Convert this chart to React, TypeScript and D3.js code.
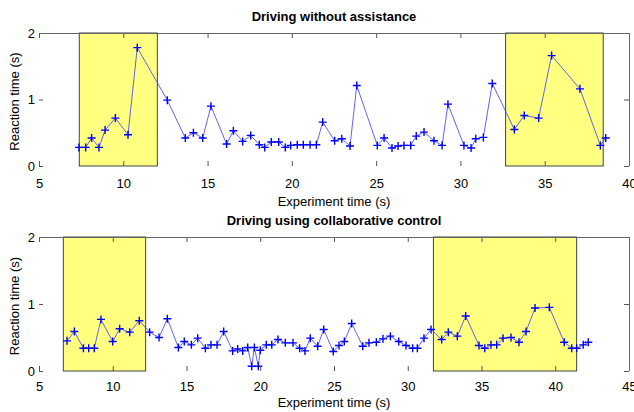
import React, { useEffect, useRef } from 'react';
import * as d3 from 'd3';

// Driving without assistance
const topTimes = [
  7.37, 7.77, 8.12, 8.56, 8.92, 9.53, 10.28, 10.83, 12.61, 13.68, 14.16, 14.71, 15.2, 16.13,
  16.53, 17.08, 17.56, 18.07, 18.39, 18.78, 19.22, 19.61, 19.93, 20.32, 20.68, 21.08, 21.45,
  21.83, 22.54, 22.96, 23.45, 23.85, 25.07, 25.47, 25.94, 26.3, 26.65, 27.05, 27.38, 27.84,
  28.43, 28.91, 29.26, 30.21, 30.63, 30.91, 31.36, 31.89, 33.2, 33.79, 34.64, 35.41, 37.09,
  38.3, 38.62,
];
const topReaction = [
  0.28, 0.28, 0.42, 0.28, 0.54, 0.72, 0.47, 1.78, 0.99, 0.42, 0.5, 0.42, 0.9, 0.33,
  0.53, 0.37, 0.46, 0.32, 0.28, 0.36, 0.36, 0.28, 0.31, 0.32, 0.32, 0.32, 0.32,
  0.66, 0.38, 0.41, 0.3, 1.21, 0.31, 0.42, 0.27, 0.3, 0.31, 0.31, 0.45, 0.51,
  0.38, 0.31, 0.93, 0.31, 0.27, 0.41, 0.43, 1.24, 0.55, 0.76, 0.72, 1.66, 1.16,
  0.31, 0.42,
];
const topShaded = [[7.39, 12.02], [32.68, 38.47]];

// Driving using collaborative control
const bottomTimes = [
  6.9, 7.4, 8.01, 8.37, 8.75, 9.2, 10.0, 10.47, 11.15, 11.8, 12.5, 13.14, 13.7, 14.45, 14.85,
  15.33, 15.76, 16.28, 16.66, 17.07, 17.52, 18.13, 18.47, 18.81, 19.15, 19.42, 19.6, 19.87,
  20.0, 20.41, 20.78, 21.2, 21.7, 22.22, 22.67, 23.03, 23.39, 23.89, 24.3, 24.95, 25.34,
  25.7, 26.2, 26.95, 27.37, 27.87, 28.32, 28.82, 29.39, 29.88, 30.33, 30.65, 31.1, 31.58,
  32.3, 32.75, 33.36, 33.93, 34.83, 35.22, 35.64, 36.03, 36.46, 37.0, 37.54, 38.02, 38.63,
  39.6, 40.61, 41.12, 41.45, 41.9, 42.24,
];
const bottomReaction = [
  0.45, 0.59, 0.34, 0.34, 0.34, 0.77, 0.44, 0.63, 0.58, 0.75, 0.58, 0.5, 0.78, 0.35, 0.44,
  0.39, 0.49, 0.34, 0.39, 0.39, 0.59, 0.3, 0.33, 0.3, 0.35, 0.07, 0.35, 0.07,
  0.31, 0.39, 0.39, 0.47, 0.42, 0.42, 0.34, 0.3, 0.49, 0.37, 0.62, 0.29, 0.38,
  0.44, 0.71, 0.37, 0.42, 0.43, 0.48, 0.52, 0.44, 0.38, 0.34, 0.34, 0.49, 0.62,
  0.47, 0.58, 0.52, 0.82, 0.38, 0.34, 0.39, 0.39, 0.49, 0.5, 0.43, 0.59, 0.94,
  0.95, 0.43, 0.34, 0.34, 0.39, 0.43,
];
const bottomShaded = [[6.65, 12.23], [31.74, 41.45]];

const topXTicks = [5, 10, 15, 20, 25, 30, 35, 40];
const bottomXTicks = [5, 10, 15, 20, 25, 30, 35, 40, 45];
const yTicks = [0, 1, 2];

const FONT = '"Liberation Sans", Arial, Helvetica, sans-serif';

const panels = [
  {
    title: 'Driving without assistance',
    times: topTimes, values: topReaction, shaded: topShaded,
    xTicks: topXTicks, top: 33, bottom: 166, tickPad: 12.5, labelGap: 40,
  },
  {
    title: 'Driving using collaborative control',
    times: bottomTimes, values: bottomReaction, shaded: bottomShaded,
    xTicks: bottomXTicks, top: 237, bottom: 371, tickPad: 10.5, labelGap: 35.5,
  },
];

const App = () => {
  const svgRef = useRef(null);

  useEffect(() => {
    const svg = d3.select(svgRef.current);
    svg.selectAll('*').remove();

    const left = 39;
    const right = 629;

    panels.forEach((p) => {
      const xDomain = [p.xTicks[0], p.xTicks[p.xTicks.length - 1]];
      const xScale = d3.scaleLinear().domain(xDomain).range([left, right]);
      const yScale = d3.scaleLinear().domain([0, 2]).range([p.bottom, p.top]);
      const g = svg.append('g');

      // shaded intervals
      g.selectAll('rect.shade')
        .data(p.shaded)
        .enter()
        .append('rect')
        .attr('x', (d) => xScale(d[0]))
        .attr('y', p.top)
        .attr('width', (d) => xScale(d[1]) - xScale(d[0]))
        .attr('height', p.bottom - p.top)
        .attr('fill', '#ffff80')
        .attr('stroke', '#444')
        .attr('stroke-width', 1);

      // data line
      const line = d3.line()
        .x((d) => xScale(d[0]))
        .y((d) => yScale(d[1]));
      const pts = p.times.map((t, i) => [t, p.values[i]]);
      g.append('path')
        .datum(pts)
        .attr('fill', 'none')
        .attr('stroke', '#3b3bff')
        .attr('stroke-width', 0.8)
        .attr('d', line);

      g.selectAll('path.mark')
        .data(pts)
        .enter()
        .append('path')
        .attr('class', 'mark')
        .attr('transform', (d) => `translate(${xScale(d[0])},${yScale(d[1])})`)
        .attr('d', 'M-4,0H4M0,-4V4')
        .attr('stroke', '#0000ff')
        .attr('stroke-width', 1.4)
        .attr('fill', 'none');

      // axes (ticks inward, box only top + right visible)
      const styleAxis = (sel) => {
        sel.select('.domain').remove();
        sel.selectAll('.tick line').attr('stroke', '#555');
        sel.selectAll('text')
          .attr('fill', '#000')
          .style('font-family', FONT)
          .style('font-size', '13px');
      };

      g.append('g')
        .attr('transform', `translate(0,${p.bottom})`)
        .call(d3.axisBottom(xScale).tickValues(p.xTicks).tickSize(-5).tickPadding(p.tickPad).tickFormat(d3.format('d')))
        .call(styleAxis);
      g.append('g')
        .attr('transform', `translate(0,${p.top})`)
        .call(d3.axisTop(xScale).tickValues(p.xTicks).tickSize(-5).tickFormat(() => ''))
        .call(styleAxis);
      g.append('g')
        .attr('transform', `translate(${left},0)`)
        .call(d3.axisLeft(yScale).tickValues(yTicks).tickSize(-4).tickPadding(4).tickFormat(d3.format('d')))
        .call(styleAxis);
      g.append('g')
        .attr('transform', `translate(${right},0)`)
        .call(d3.axisRight(yScale).tickValues(yTicks).tickSize(-5).tickFormat(() => ''))
        .call(styleAxis);

      g.append('path')
        .attr('d', `M${left},${p.top + 0.5}H${right + 0.5}V${p.bottom}`)
        .attr('fill', 'none')
        .attr('stroke', '#666')
        .attr('stroke-width', 1);

      // labels
      g.append('text')
        .attr('x', (left + right) / 2)
        .attr('y', p.top - 12.5)
        .attr('text-anchor', 'middle')
        .style('font-family', FONT)
        .style('font-size', '13px')
        .style('font-weight', 'bold')
        .text(p.title);

      g.append('text')
        .attr('x', (left + right) / 2)
        .attr('y', p.bottom + p.labelGap)
        .attr('text-anchor', 'middle')
        .style('font-family', FONT)
        .style('font-size', '13px')
        .text('Experiment time (s)');

      g.append('text')
        .attr('transform', `translate(19,${(p.top + p.bottom) / 2 + 2}) rotate(-90)`)
        .attr('text-anchor', 'middle')
        .style('font-family', FONT)
        .style('font-size', '13px')
        .text('Reaction time (s)');
    });
  }, []);

  return (
    <svg
      ref={svgRef}
      width={634}
      height={412}
      style={{ position: 'absolute', left: 0, top: 0, background: '#fff' }}
    ></svg>
  );
};

export default App;
